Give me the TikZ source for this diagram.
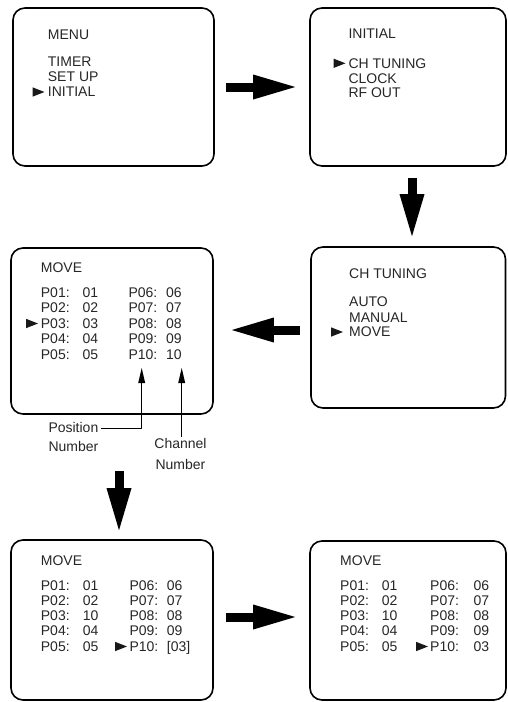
\documentclass[tikz,border=0pt]{standalone}
\usepackage{fontspec}
\setmainfont{Liberation Sans}
\usetikzlibrary{arrows.meta}

\begin{document}
\begin{tikzpicture}[x=1pt,y=-1pt,line join=round,font=\fontsize{14}{16}\selectfont,
	screen/.style={draw,line width=1.6pt,rounded corners=12pt,inner sep=0pt},
	txt/.style={anchor=base west,inner sep=0pt,text=black!85},
	lbl/.style={anchor=base,inner sep=0pt,text=black!85},
	bigarrow/.style={line width=9pt,-{Triangle[length=42pt,width=25pt,line width=0pt]}},
	ptr/.style={line width=.8pt,-{Triangle[length=15pt,width=7pt,line width=0pt]}},
	cursor/.pic={\fill[black!90] (0,0)--(-12,-4.7)--(-12,4.7)--cycle;}]
	\useasboundingbox (0,0) rectangle (507,702);
	\node[screen,minimum width=201pt,minimum height=158pt] (menu) at (113.5,87) {};
	\node[screen,minimum width=196pt,minimum height=158pt] (initial) at (408,87) {};
	\node[screen,minimum width=194.5pt,minimum height=161pt] (tuning) at (408.25,327.5) {};
	\node[screen,minimum width=202pt,minimum height=166pt] (move) at (112,331) {};
	\node[screen,minimum width=202pt,minimum height=160pt] (edit) at (112,620) {};
	\node[screen,minimum width=196pt,minimum height=159pt] (done) at (408,620.5) {};
	\foreach \t/\y [count=\i] in {MENU/39,TIMER/66,SET UP/81.5,INITIAL/96.7}
	\node[txt] (m\i) at (47.7,\y) {\t};
	\foreach \t/\y [count=\i] in {INITIAL/38.3,CH TUNING/68.3,CLOCK/83,RF OUT/97.3}
	\node[txt] (n\i) at (348.3,\y) {\t};
	\foreach \t/\y [count=\i] in {CH TUNING/278,AUTO/306.5,MANUAL/322,MOVE/336.7}
	\node[txt] (c\i) at (349,\y) {\t};
	\pic at (44.5,92) {cursor};
	\pic at (345.5,63.3) {cursor};
	\pic at (343,332) {cursor};
	\node[txt] (mv) at (40.7,272.7) {MOVE};
	\foreach \a/\b/\c/\d [count=\i] in {01/01/06/06,02/02/07/07,03/03/08/08,04/04/09/09,05/05/10/10}{
		\node[txt] (ap\i) at (40.7,{281.35+15.65*\i}) {P\a:};
		\node[txt] (av\i) at (82.3,{281.35+15.65*\i}) {\b};
		\node[txt] (bp\i) at (128.3,{281.35+15.65*\i}) {P\c:};
		\node[txt] (bv\i) at (166,{281.35+15.65*\i}) {\d};
	}
	\pic at (38,323.5) {cursor};
	\node[txt] (ed) at (40.7,565) {MOVE};
	\foreach \a/\b/\c/\d [count=\i] in {01/01/06/06,02/02/07/07,03/10/08/08,04/04/09/09,05/05/10/[03]}{
		\node[txt] (cp\i) at (40.7,{574.7+15.3*\i}) {P\a:};
		\node[txt] (cv\i) at (82.7,{574.7+15.3*\i}) {\b};
		\node[txt] (dp\i) at (129.3,{574.7+15.3*\i}) {P\c:};
		\node[txt] (dv\i) at (166.7,{574.7+15.3*\i}) {\d};
	}
	\pic at (127,646.5) {cursor};
	\node[txt] (dn) at (340,565) {MOVE};
	\foreach \a/\b/\c/\d [count=\i] in {01/01/06/06,02/02/07/07,03/10/08/08,04/04/09/09,05/05/10/03}{
		\node[txt] (ep\i) at (340,{574.7+15.3*\i}) {P\a:};
		\node[txt] (ev\i) at (381.7,{574.7+15.3*\i}) {\b};
		\node[txt] (fp\i) at (430,{574.7+15.3*\i}) {P\c:};
		\node[txt] (fv\i) at (473.3,{574.7+15.3*\i}) {\d};
	}
	\pic at (428,646.5) {cursor};
	\coordinate (postip) at (141.7,368);
	\coordinate (chtip) at (181.7,368);
	\node[txt] (pos) at (48.3,432.3) {Position};
	\node[txt] (posn) at (48.3,451.7) {Number};
	\node[lbl] (chan) at (180.5,448.3) {Channel};
	\node[lbl] (chann) at (180.5,469) {Number};
	\draw[ptr] ([xshift=2.5pt,yshift=-1.5pt]pos.east) -| (postip);
	\draw[ptr,shorten <=1pt] (chan.north -| chtip) -- (chtip);
	\draw[bigarrow,shorten <=11pt,shorten >=14pt] (menu.east) -- (initial.west);
	\draw[bigarrow,shorten <=11pt,shorten >=10pt] ([xshift=4pt]initial.south) -- ([xshift=3.75pt]tuning.north);
	\draw[bigarrow,shorten <=10pt,shorten >=18pt] ([yshift=-2.5pt]tuning.west) -- ([yshift=-2.5pt]tuning.west -| move.east);
	\draw[bigarrow,shorten <=56pt,shorten >=9pt] ([xshift=7pt]move.south) -- ([xshift=7pt]edit.north);
	\draw[bigarrow,shorten <=12pt,shorten >=14pt] ([yshift=3pt]edit.east) -- ([yshift=3pt]edit.east -| done.west);
\end{tikzpicture}
\end{document}
